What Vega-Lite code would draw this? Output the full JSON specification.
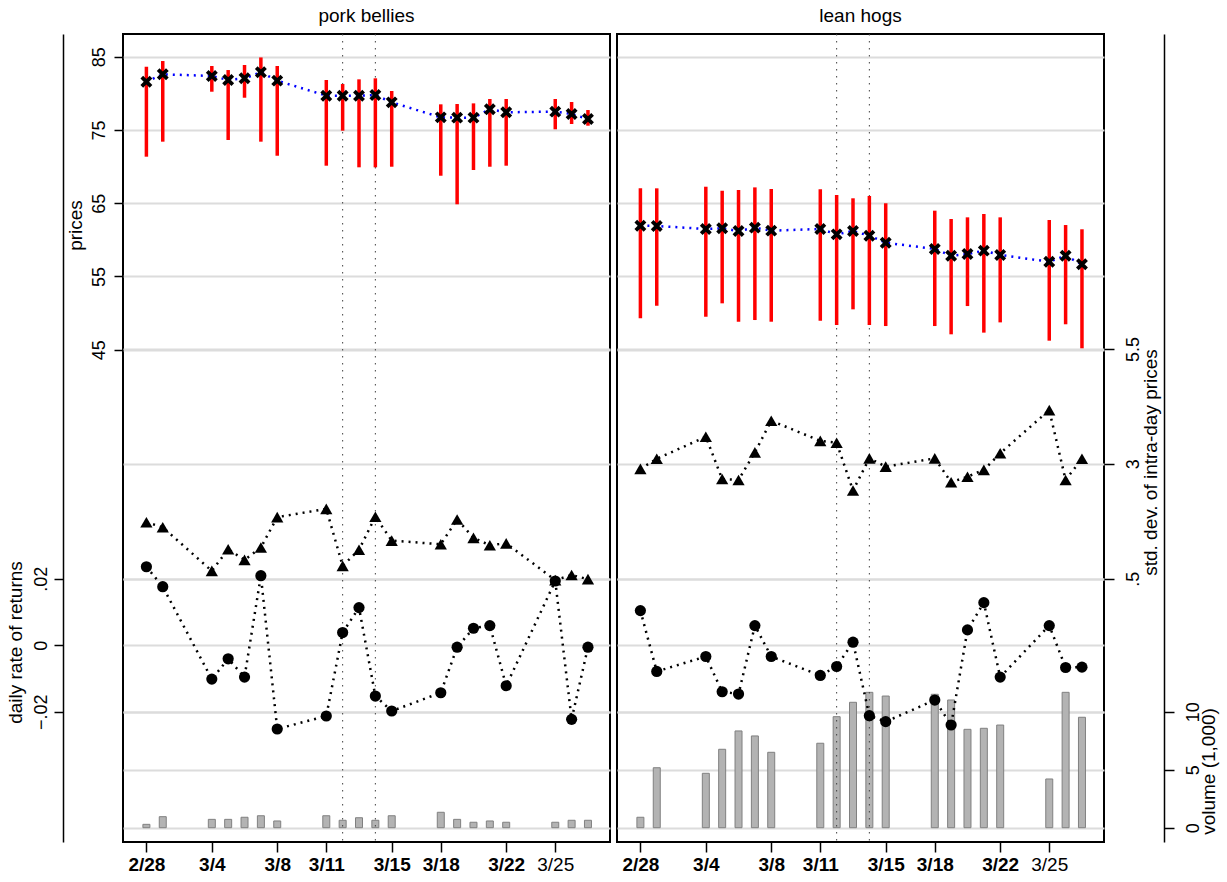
{
"$schema": "https://vega.github.io/schema/vega-lite/v6.json",
"background": "white",
"padding": {"left": 5, "top": 5, "right": 5, "bottom": 5},
"spacing": 5,
"datasets": {
"pb": [
{"d":"2002-02-28","high":83.63,"low":71.35,"close":81.59,"sd":1.73,"ret":0.0236,"vol":0.29},
{"d":"2002-03-01","high":84.41,"low":73.40,"close":82.60,"sd":1.62,"ret":0.0176,"vol":0.95},
{"d":"2002-03-04","high":83.73,"low":80.22,"close":82.37,"sd":0.67,"ret":-0.0102,"vol":0.72},
{"d":"2002-03-05","high":83.18,"low":73.63,"close":81.82,"sd":1.14,"ret":-0.0041,"vol":0.72},
{"d":"2002-03-06","high":83.87,"low":79.40,"close":82.05,"sd":0.91,"ret":-0.0096,"vol":0.90},
{"d":"2002-03-07","high":84.90,"low":73.40,"close":82.87,"sd":1.18,"ret":0.0209,"vol":1.03},
{"d":"2002-03-08","high":83.73,"low":71.48,"close":81.73,"sd":1.84,"ret":-0.0252,"vol":0.58},
{"d":"2002-03-11","high":81.82,"low":70.12,"close":79.68,"sd":2.02,"ret":-0.0213,"vol":1.03},
{"d":"2002-03-12","high":81.27,"low":74.90,"close":79.68,"sd":0.78,"ret":0.0038,"vol":0.64},
{"d":"2002-03-13","high":81.91,"low":69.90,"close":79.68,"sd":1.13,"ret":0.0113,"vol":0.86},
{"d":"2002-03-14","high":82.05,"low":69.90,"close":79.77,"sd":1.85,"ret":-0.0153,"vol":0.64},
{"d":"2002-03-15","high":80.32,"low":69.98,"close":78.77,"sd":1.33,"ret":-0.0198,"vol":1.03},
{"d":"2002-03-18","high":78.50,"low":68.75,"close":76.72,"sd":1.25,"ret":-0.0143,"vol":1.33},
{"d":"2002-03-19","high":78.54,"low":64.85,"close":76.68,"sd":1.79,"ret":-0.0006,"vol":0.72},
{"d":"2002-03-20","high":78.63,"low":69.53,"close":76.68,"sd":1.39,"ret":0.0051,"vol":0.47},
{"d":"2002-03-21","high":79.23,"low":69.98,"close":77.82,"sd":1.23,"ret":0.0059,"vol":0.58},
{"d":"2002-03-22","high":79.23,"low":70.12,"close":77.41,"sd":1.27,"ret":-0.0122,"vol":0.47},
{"d":"2002-03-25","high":79.23,"low":75.09,"close":77.50,"sd":0.47,"ret":0.0193,"vol":0.47},
{"d":"2002-03-26","high":78.82,"low":75.81,"close":77.18,"sd":0.58,"ret":-0.0223,"vol":0.64},
{"d":"2002-03-27","high":77.72,"low":75.58,"close":76.50,"sd":0.49,"ret":-0.0006,"vol":0.64}
],
"lh": [
{"d":"2002-02-28","high":67.03,"low":49.28,"close":61.93,"sd":2.89,"ret":0.0104,"vol":0.90},
{"d":"2002-03-01","high":67.03,"low":51.00,"close":61.89,"sd":3.11,"ret":-0.0079,"vol":5.17},
{"d":"2002-03-04","high":67.25,"low":49.50,"close":61.48,"sd":3.59,"ret":-0.0034,"vol":4.69},
{"d":"2002-03-05","high":66.70,"low":51.33,"close":61.57,"sd":2.67,"ret":-0.0140,"vol":6.76},
{"d":"2002-03-06","high":66.80,"low":48.82,"close":61.20,"sd":2.65,"ret":-0.0147,"vol":8.34},
{"d":"2002-03-07","high":67.16,"low":49.05,"close":61.66,"sd":3.25,"ret":0.0059,"vol":7.91},
{"d":"2002-03-08","high":66.94,"low":48.82,"close":61.25,"sd":3.94,"ret":-0.0034,"vol":6.50},
{"d":"2002-03-11","high":66.89,"low":48.96,"close":61.48,"sd":3.50,"ret":-0.0091,"vol":7.28},
{"d":"2002-03-12","high":66.12,"low":48.37,"close":60.75,"sd":3.46,"ret":-0.0064,"vol":9.57},
{"d":"2002-03-13","high":65.67,"low":50.51,"close":61.20,"sd":2.42,"ret":0.0009,"vol":10.81},
{"d":"2002-03-14","high":65.98,"low":48.37,"close":60.56,"sd":3.12,"ret":-0.0212,"vol":11.67},
{"d":"2002-03-15","high":64.99,"low":48.23,"close":59.61,"sd":2.94,"ret":-0.0230,"vol":11.35},
{"d":"2002-03-18","high":63.98,"low":48.23,"close":58.75,"sd":3.12,"ret":-0.0165,"vol":11.50},
{"d":"2002-03-19","high":62.84,"low":47.10,"close":57.83,"sd":2.60,"ret":-0.0240,"vol":11.01},
{"d":"2002-03-20","high":63.07,"low":50.96,"close":58.07,"sd":2.72,"ret":0.0046,"vol":8.48},
{"d":"2002-03-21","high":63.53,"low":47.33,"close":58.52,"sd":2.87,"ret":0.0128,"vol":8.57},
{"d":"2002-03-22","high":63.07,"low":48.73,"close":57.93,"sd":3.23,"ret":-0.0096,"vol":8.85},
{"d":"2002-03-25","high":62.71,"low":46.23,"close":57.01,"sd":4.17,"ret":0.0059,"vol":4.20},
{"d":"2002-03-26","high":62.02,"low":48.47,"close":57.83,"sd":2.65,"ret":-0.0067,"vol":11.67},
{"d":"2002-03-27","high":61.44,"low":45.19,"close":56.66,"sd":3.11,"ret":-0.0066,"vol":9.52}
],
"vl": [{"d":"2002-03-12"},{"d":"2002-03-14"}]
},
"config": {
"font": "Liberation Sans",
"view": {"stroke": "black", "strokeWidth": 2},
"axis": {"labelColor":"black","titleColor":"black","tickColor":"black","domainColor":"black","labelFontSize":18,"titleFontSize":19,"titleFontWeight":"normal","gridColor":"#dcdcdc","gridWidth":2,"tickWidth":1.5,"domainWidth":1.5,"labelOverlap":false,"labelFlush":false},
"title": {"fontSize":19,"fontWeight":"normal","color":"black"}
},
"hconcat": [
{
"width": 487, "height": 808,
"title": {"text":"pork bellies","anchor":"middle","frame":"group","offset":8},
"resolve": {"scale": {"y": "independent"}},
"encoding": {"x": {"field":"d","type":"temporal",
 "scale":{"type":"utc","domain":[{"year":2002,"month":2,"date":26,"hours":21,"utc":true},{"year":2002,"month":3,"date":28,"hours":1,"utc":true}]},
 "axis":{"values":[{"year":2002,"month":2,"date":28,"utc":true},{"year":2002,"month":3,"date":4,"utc":true},{"year":2002,"month":3,"date":8,"utc":true},{"year":2002,"month":3,"date":11,"utc":true},{"year":2002,"month":3,"date":15,"utc":true},{"year":2002,"month":3,"date":18,"utc":true},{"year":2002,"month":3,"date":22,"utc":true},{"year":2002,"month":3,"date":25,"utc":true}],
 "labelExpr":"utcFormat(datum.value, '%-m/%-d')","grid":false,"domain":false,"tickSize":10,"labelPadding":3,"labelFontSize":19,"title":null,
 "labelFontWeight":{"condition":{"test":"utcdate(datum.value) == 25","value":"normal"},"value":"bold"}}}},
"layer": [
{"data":{"name":"pb"},"mark":{"type":"bar","width":7,"fill":"#b3b3b3","stroke":"#808080","strokeWidth":1},
 "encoding":{"y":{"field":"vol","type":"quantitative","scale":{"domain":[-1.233,68.42],"nice":false,"zero":false},
 "axis":{"orient":"right","values":[0,5,10],"grid":true,"labels":false,"ticks":false,"domain":false,"title":null}}}},
{"data":{"name":"vl"},"mark":{"type":"rule","color":"#404040","strokeWidth":1,"strokeDash":[1.5,5.5]},"encoding":{}},
{"data":{"name":"pb"},"mark":{"type":"rule","color":"#ff0000","strokeWidth":3.5},
 "encoding":{"y":{"field":"low","type":"quantitative","scale":{"domain":[-22.21,88.10],"nice":false,"zero":false},
 "axis":{"orient":"left","values":[45,55,65,75,85],"grid":true,"domain":false,"tickSize":9,"labelAngle":-90,"labelAlign":"center","labelBaseline":"alphabetic","labelPadding":10,"title":"prices","titleAngle":-90,"titleAlign":"center","titleBaseline":"alphabetic","titleX":-42,"titleY":191}},
 "y2":{"field":"high"}}},
{"data":{"name":"pb"},"mark":{"type":"line","color":"#0000ff","strokeWidth":2.5,"strokeDash":[2,5]},
 "encoding":{"y":{"field":"close","type":"quantitative","scale":{"domain":[-22.21,88.10],"nice":false,"zero":false},"axis":null}}},
{"data":{"name":"pb"},"mark":{"type":"point","shape":"M-1,-1L1,1M-1,1L1,-1","filled":false,"stroke":"black","strokeWidth":3.8,"size":85,"opacity":1},
 "encoding":{"y":{"field":"close","type":"quantitative","scale":{"domain":[-22.21,88.10],"nice":false,"zero":false},"axis":null}}},
{"data":{"name":"pb"},"mark":{"type":"line","color":"black","strokeWidth":2.5,"strokeDash":[2,5]},
 "encoding":{"y":{"field":"sd","type":"quantitative","scale":{"domain":[-5.231,12.357],"nice":false,"zero":false},
 "axis":{"orient":"right","values":[0.5,3,5.5],"grid":true,"labels":false,"ticks":false,"domain":false,"title":null}}}},
{"data":{"name":"pb"},"mark":{"type":"point","shape":"triangle-up","filled":true,"color":"black","size":150,"opacity":1},
 "encoding":{"y":{"field":"sd","type":"quantitative","scale":{"domain":[-5.231,12.357],"nice":false,"zero":false},"axis":null}}},
{"data":{"name":"pb"},"mark":{"type":"line","color":"black","strokeWidth":2.5,"strokeDash":[2,5]},
 "encoding":{"y":{"field":"ret","type":"quantitative","scale":{"domain":[-0.05919,0.18382],"nice":false,"zero":false},
 "axis":{"orient":"left","offset":60,"values":[-0.02,0,0.02],"grid":true,"domain":true,"tickSize":9,"labelAngle":-90,"labelAlign":"center","labelBaseline":"alphabetic","labelPadding":8,
 "labelExpr":"replace(format(datum.value, '~g'), '0.', '.')","title":"daily rate of returns","titleAngle":-90,"titleAlign":"center","titleBaseline":"alphabetic","titleX":-42,"titleY":608}}}},
{"data":{"name":"pb"},"mark":{"type":"point","shape":"circle","filled":true,"color":"black","size":125,"opacity":1},
 "encoding":{"y":{"field":"ret","type":"quantitative","scale":{"domain":[-0.05919,0.18382],"nice":false,"zero":false},"axis":null}}}
]
},
{
"width": 487, "height": 808,
"title": {"text":"lean hogs","anchor":"middle","frame":"group","offset":8},
"resolve": {"scale": {"y": "independent"}},
"encoding": {"x": {"field":"d","type":"temporal",
 "scale":{"type":"utc","domain":[{"year":2002,"month":2,"date":26,"hours":21,"utc":true},{"year":2002,"month":3,"date":28,"hours":1,"utc":true}]},
 "axis":{"values":[{"year":2002,"month":2,"date":28,"utc":true},{"year":2002,"month":3,"date":4,"utc":true},{"year":2002,"month":3,"date":8,"utc":true},{"year":2002,"month":3,"date":11,"utc":true},{"year":2002,"month":3,"date":15,"utc":true},{"year":2002,"month":3,"date":18,"utc":true},{"year":2002,"month":3,"date":22,"utc":true},{"year":2002,"month":3,"date":25,"utc":true}],
 "labelExpr":"utcFormat(datum.value, '%-m/%-d')","grid":false,"domain":false,"tickSize":10,"labelPadding":3,"labelFontSize":19,"title":null,
 "labelFontWeight":{"condition":{"test":"utcdate(datum.value) == 25","value":"normal"},"value":"bold"}}}},
"layer": [
{"data":{"name":"lh"},"mark":{"type":"bar","width":7,"fill":"#b3b3b3","stroke":"#808080","strokeWidth":1},
 "encoding":{"y":{"field":"vol","type":"quantitative","scale":{"domain":[-1.233,68.42],"nice":false,"zero":false},
 "axis":{"orient":"right","offset":60,"values":[0,5,10],"grid":true,"domain":true,"tickSize":10,"labelAngle":-90,"labelAlign":"center","labelBaseline":"alphabetic","labelPadding":24,
 "title":"volume (1,000)","titleAngle":-90,"titleAlign":"center","titleBaseline":"alphabetic","titleX":50,"titleY":737}}}},
{"data":{"name":"vl"},"mark":{"type":"rule","color":"#404040","strokeWidth":1,"strokeDash":[1.5,5.5]},"encoding":{}},
{"data":{"name":"lh"},"mark":{"type":"rule","color":"#ff0000","strokeWidth":3.5},
 "encoding":{"y":{"field":"low","type":"quantitative","scale":{"domain":[-22.21,88.10],"nice":false,"zero":false},
 "axis":{"orient":"left","values":[45,55,65,75,85],"grid":true,"labels":false,"ticks":false,"domain":false,"title":null}},
 "y2":{"field":"high"}}},
{"data":{"name":"lh"},"mark":{"type":"line","color":"#0000ff","strokeWidth":2.5,"strokeDash":[2,5]},
 "encoding":{"y":{"field":"close","type":"quantitative","scale":{"domain":[-22.21,88.10],"nice":false,"zero":false},"axis":null}}},
{"data":{"name":"lh"},"mark":{"type":"point","shape":"M-1,-1L1,1M-1,1L1,-1","filled":false,"stroke":"black","strokeWidth":3.8,"size":85,"opacity":1},
 "encoding":{"y":{"field":"close","type":"quantitative","scale":{"domain":[-22.21,88.10],"nice":false,"zero":false},"axis":null}}},
{"data":{"name":"lh"},"mark":{"type":"line","color":"black","strokeWidth":2.5,"strokeDash":[2,5]},
 "encoding":{"y":{"field":"sd","type":"quantitative","scale":{"domain":[-5.231,12.357],"nice":false,"zero":false},
 "axis":{"orient":"right","values":[0.5,3,5.5],"grid":true,"domain":false,"tickSize":10,"labelAngle":-90,"labelAlign":"center","labelBaseline":"alphabetic","labelPadding":24,
 "labelExpr":"replace(format(datum.value, '~g'), '0.', '.')","title":"std. dev. of intra-day prices","titleAngle":-90,"titleAlign":"center","titleBaseline":"alphabetic","titleX":52,"titleY":428}}}},
{"data":{"name":"lh"},"mark":{"type":"point","shape":"triangle-up","filled":true,"color":"black","size":150,"opacity":1},
 "encoding":{"y":{"field":"sd","type":"quantitative","scale":{"domain":[-5.231,12.357],"nice":false,"zero":false},"axis":null}}},
{"data":{"name":"lh"},"mark":{"type":"line","color":"black","strokeWidth":2.5,"strokeDash":[2,5]},
 "encoding":{"y":{"field":"ret","type":"quantitative","scale":{"domain":[-0.05919,0.18382],"nice":false,"zero":false},
 "axis":{"orient":"left","values":[-0.02,0,0.02],"grid":true,"labels":false,"ticks":false,"domain":false,"title":null}}}},
{"data":{"name":"lh"},"mark":{"type":"point","shape":"circle","filled":true,"color":"black","size":125,"opacity":1},
 "encoding":{"y":{"field":"ret","type":"quantitative","scale":{"domain":[-0.05919,0.18382],"nice":false,"zero":false},"axis":null}}}
]
}
]
}
